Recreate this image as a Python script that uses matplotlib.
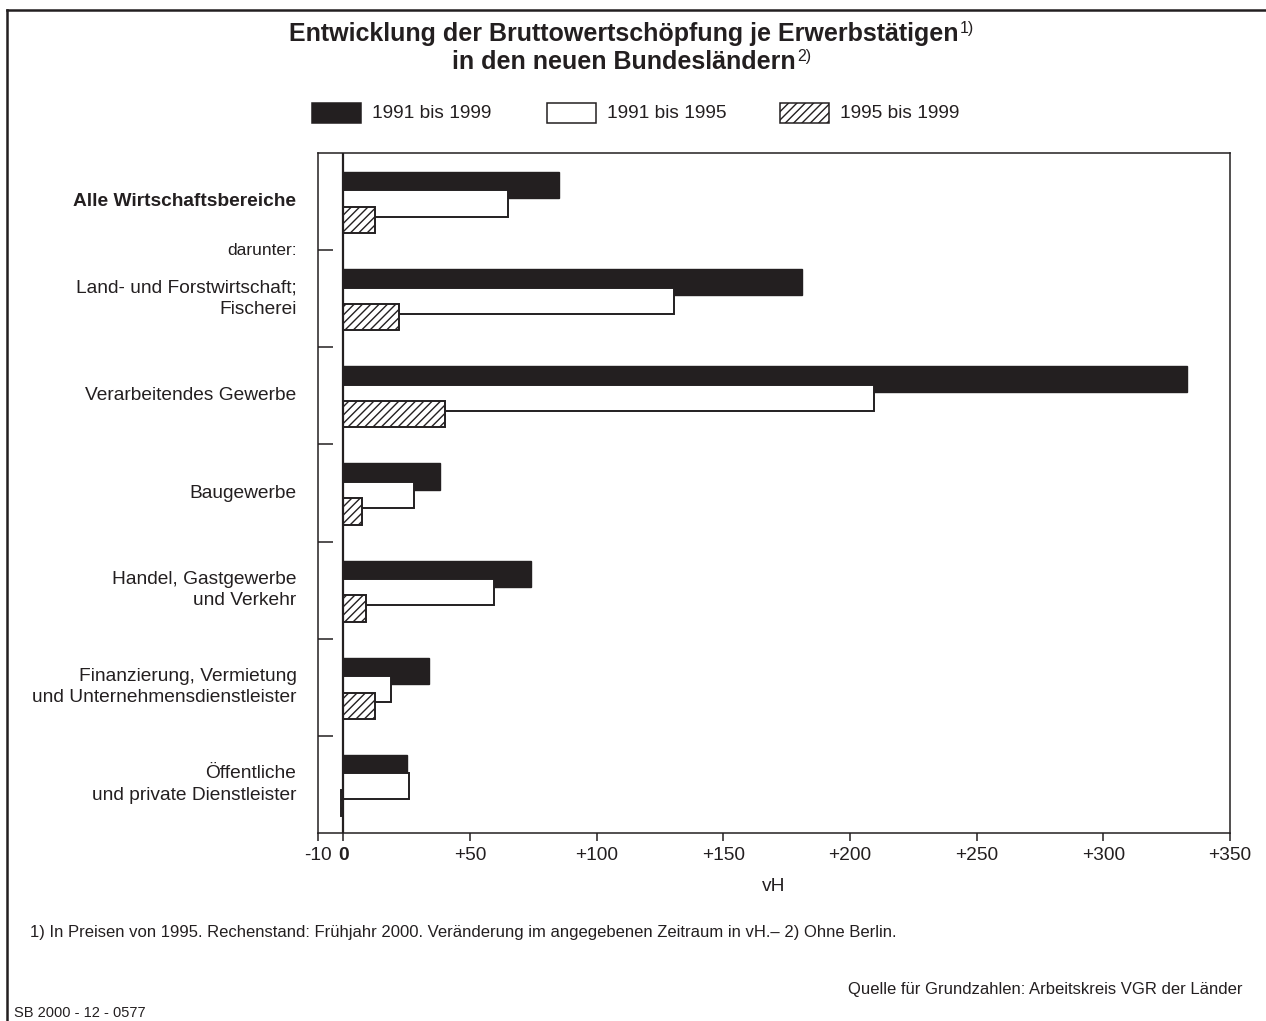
import matplotlib
matplotlib.use('Agg')
import matplotlib.pyplot as plt
import numpy as np
from matplotlib.lines import Line2D
from matplotlib.patches import Rectangle

plt.rcParams['font.family'] = ['Liberation Sans', 'DejaVu Sans']
plt.rcParams['hatch.linewidth'] = 1.0

DARK = '#231f20'

categories = [
    'Alle Wirtschaftsbereiche',
    'Land- und Forstwirtschaft;\nFischerei',
    'Verarbeitendes Gewerbe',
    'Baugewerbe',
    'Handel, Gastgewerbe\nund Verkehr',
    'Finanzierung, Vermietung\nund Unternehmensdienstleister',
    'Öffentliche\nund private Dienstleister',
]
series_labels = ['1991 bis 1999', '1991 bis 1995', '1995 bis 1999']
v_1991_1999 = [85, 181, 333, 38, 74, 34, 25]
v_1991_1995 = [65, 130.5, 209.5, 28, 59.5, 19, 26]
v_1995_1999 = [12.5, 22, 40, 7.5, 9, 12.5, -1]
xticks = [-10, 0, 50, 100, 150, 200, 250, 300, 350]
xticklabels = ['-10', '0', '+50', '+100', '+150', '+200', '+250', '+300', '+350']

W, H = 1266, 1021
fig = plt.figure(figsize=(W / 100, H / 100), dpi=100)
ax = fig.add_axes([318 / W, 1 - 833 / H, (1230 - 318) / W, (833 - 153) / H])

y = np.arange(len(categories))
bh = 0.27
ax.barh(y - 0.17, v_1991_1999, height=bh, color=DARK, edgecolor=DARK, linewidth=1.0, zorder=2)
ax.barh(y + 0.02, v_1991_1995, height=bh, color='white', edgecolor=DARK, linewidth=1.4, zorder=3)
ax.barh(y + 0.19, v_1995_1999, height=bh, color='white', edgecolor=DARK, linewidth=1.4,
        hatch='////', zorder=4)

ax.axvline(0, color=DARK, linewidth=1.6, zorder=5)
ax.set_xlim(-10, 350)
ax.set_ylim(len(categories) - 0.5, -0.5)

for s in ax.spines.values():
    s.set_color(DARK)
    s.set_linewidth(1.1)

ax.set_xticks(xticks)
ax.set_xticklabels(xticklabels, fontsize=13.8, color=DARK)
ax.get_xticklabels()[1].set_fontweight('bold')
ax.tick_params(axis='x', direction='out', length=6, width=1.1, color=DARK, pad=4)
ax.set_yticks(np.arange(len(categories) - 1) + 0.5)
ax.set_yticklabels([])
ax.tick_params(axis='y', direction='in', length=11, width=1.1, color=DARK)
ax.set_xlabel('vH', fontsize=13.8, color=DARK, labelpad=10)

for i, cat in enumerate(categories):
    ax.text(-18.5, i, cat, ha='right', va='center', fontsize=13.8, color=DARK,
            linespacing=1.32, fontweight='bold' if i == 0 else 'normal')
ax.text(-18.5, 0.5, 'darunter:', ha='right', va='center', fontsize=12.5, color=DARK)

# title with footnote marks
renderer = fig.canvas.get_renderer()
for yy, line, mark in [(34, 'Entwicklung der Bruttowertschöpfung je Erwerbstätigen', '1)'),
                       (62, 'in den neuen Bundesländern', '2)')]:
    t = fig.text(624 / W, 1 - yy / H, line, ha='center', va='center',
                 fontsize=18, fontweight='bold', color=DARK)
    bb = t.get_window_extent(renderer)
    fig.text((bb.x1 + 1) / W, 1 - (yy - 6) / H, mark, ha='left', va='center',
             fontsize=11.5, color=DARK)

# legend
for x0, lab, fc, hatch in [(312, series_labels[0], DARK, None),
                           (547, series_labels[1], 'white', None),
                           (780, series_labels[2], 'white', '////')]:
    fig.patches.append(Rectangle((x0 / W, 1 - 123 / H), 49 / W, 20 / H, transform=fig.transFigure,
                                 facecolor=fc, edgecolor=DARK, linewidth=1.1, hatch=hatch))
    fig.text((x0 + 60) / W, 1 - 113 / H, lab, ha='left', va='center', fontsize=13.8, color=DARK)

# notes
fig.text(30 / W, 1 - 932 / H,
         '1) In Preisen von 1995. Rechenstand: Frühjahr 2000. Veränderung im angegebenen Zeitraum in vH.– 2) Ohne Berlin.',
         ha='left', va='center', fontsize=12, color=DARK)
fig.text(1242 / W, 1 - 989 / H, 'Quelle für Grundzahlen: Arbeitskreis VGR der Länder',
         ha='right', va='center', fontsize=12, color=DARK)
fig.text(14 / W, 1 - 1013 / H, 'SB 2000 - 12 - 0577', ha='left', va='center',
         fontsize=10.5, color=DARK)

# outer frame (top and left)
fig.add_artist(Line2D([7 / W, 1], [1 - 10 / H, 1 - 10 / H], transform=fig.transFigure,
                      color=DARK, linewidth=1.8))
fig.add_artist(Line2D([7 / W, 7 / W], [0, 1 - 10 / H], transform=fig.transFigure,
                      color=DARK, linewidth=1.8))

fig.savefig('out.png', dpi=100)
